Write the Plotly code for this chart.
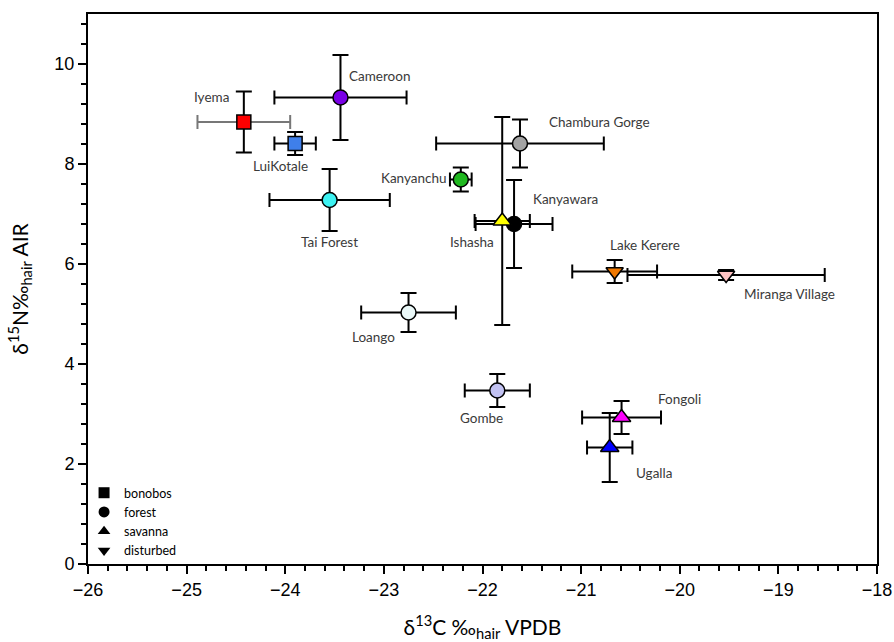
import plotly.graph_objects as go

# ---- data ----
sites = ["Iyema", "LuiKotale", "Cameroon", "Tai Forest", "Kanyanchu", "Chambura Gorge",
         "Kanyawara", "Ishasha", "Lake Kerere", "Miranga Village", "Loango", "Gombe",
         "Fongoli", "Ugalla"]
habitat = ["bonobos", "bonobos", "forest", "forest", "forest", "forest",
           "forest", "savanna", "disturbed", "disturbed", "forest", "forest",
           "savanna", "savanna"]
d13c = [-24.42, -23.90, -23.44, -23.55, -22.22, -21.62, -21.68, -21.80, -20.66, -19.53,
        -22.75, -21.85, -20.59, -20.71]
d13c_sd = [0.47, 0.21, 0.67, 0.61, 0.11, 0.85, 0.39, 0.28, 0.43, 1.00, 0.48, 0.33, 0.40, 0.23]
d15n = [8.84, 8.41, 9.33, 7.28, 7.69, 8.41, 6.80, 6.86, 5.85, 5.78, 5.03, 3.47, 2.93, 2.33]
d15n_sd = [0.61, 0.23, 0.85, 0.62, 0.24, 0.48, 0.88, 2.08, 0.23, 0.10, 0.39, 0.33, 0.33, 0.69]
legend_groups = ["bonobos", "forest", "savanna", "disturbed"]

# ---- styles ----
colors = {"Iyema": "#FF0000", "LuiKotale": "#3F7FEA", "Cameroon": "#7A00E6",
          "Tai Forest": "#3DF2F2", "Kanyanchu": "#20B820", "Chambura Gorge": "#A3A3A3",
          "Kanyawara": "#000000", "Ishasha": "#FFFF00", "Lake Kerere": "#F07800",
          "Miranga Village": "#FFC2C2", "Loango": "#EAF8F8", "Gombe": "#C2C2F2",
          "Fongoli": "#FF00FF", "Ugalla": "#0000FF"}
symbols = {"bonobos": "square", "forest": "circle", "savanna": "triangle-up",
           "disturbed": "triangle-down"}
sizes = {"bonobos": 14, "forest": 15, "savanna": 16, "disturbed": 15}
# label offsets in pixels (dx, dy) relative to point
label_off = {"Iyema": (-32, 25), "LuiKotale": (-15, -22), "Cameroon": (39, 22),
             "Tai Forest": (0, -42), "Kanyanchu": (-47, 2), "Chambura Gorge": (80, 22),
             "Kanyawara": (51, 25), "Ishasha": (-30, -21), "Lake Kerere": (30, 27),
             "Miranga Village": (63, -19), "Loango": (-35, -24), "Gombe": (-16, -27),
             "Fongoli": (58, 19), "Ugalla": (44, -25)}

fig = go.Figure()

draw_order = ["Iyema", "LuiKotale", "Cameroon", "Tai Forest", "Kanyanchu", "Chambura Gorge",
              "Kanyawara", "Ishasha", "Lake Kerere", "Miranga Village", "Loango", "Gombe",
              "Ugalla", "Fongoli"]
for name in draw_order:
    i = sites.index(name)
    h = habitat[i]
    xcol = "#777777" if name == "Iyema" else "black"
    fig.add_trace(go.Scatter(
        x=[d13c[i]], y=[d15n[i]], mode="markers", showlegend=False,
        marker=dict(symbol=symbols[h], size=sizes[h], color=colors[name],
                    line=dict(color="black", width=1.5)),
        error_x=dict(type="data", array=[d13c_sd[i]], color=xcol, thickness=2, width=7),
        error_y=dict(type="data", array=[d15n_sd[i]], color="black", thickness=2, width=8),
        hovertext=name, name=name))
    dx, dy = label_off[name]
    fig.add_annotation(x=d13c[i], y=d15n[i], text=name, showarrow=False,
                       xshift=dx, yshift=dy,
                       font=dict(family="Lato, Open Sans, sans-serif", size=13.5, color="#3a3a3a"))

for g in legend_groups:
    fig.add_trace(go.Scatter(x=[None], y=[None], mode="markers", name=g,
                             marker=dict(symbol=symbols[g], size=11, color="black")))

axis_common = dict(showline=True, linecolor="black", linewidth=2, mirror=True,
                   ticks="outside", ticklen=8, tickwidth=2, tickcolor="black",
                   showgrid=False, zeroline=False, automargin=False,
                   tickfont=dict(family="Liberation Sans, Arial, sans-serif", size=18, color="black"))

fig.update_xaxes(range=[-26, -18], dtick=1, tickformat="d",
                 minor=dict(dtick=0.2, ticks="outside", ticklen=5, tickwidth=1.5, tickcolor="black"),
                 title=dict(text="δ<sup>13</sup>C ‰<sub>hair</sub> VPDB", standoff=23,
                            font=dict(family="Lato, Open Sans, sans-serif", size=21, color="black")),
                 **axis_common)
fig.update_yaxes(range=[0, 11], tickvals=[0, 2, 4, 6, 8, 10],
                 minor=dict(dtick=0.4, ticks="outside", ticklen=5, tickwidth=1.5, tickcolor="black"),
                 title=dict(text="δ<sup>15</sup>N‰<sub>hair</sub> AIR", standoff=20,
                            font=dict(family="Lato, Open Sans, sans-serif", size=21, color="black")),
                 **axis_common)

fig.update_layout(
    width=894, height=642,
    margin=dict(l=88, r=17, t=14, b=78),
    plot_bgcolor="white", paper_bgcolor="white",
    separators=".\u2212",
    legend=dict(x=-0.005, y=-0.002, xanchor="left", yanchor="bottom",
                bgcolor="rgba(0,0,0,0)", tracegroupgap=0, itemwidth=30,
                font=dict(family="Lato, Open Sans, sans-serif", size=12.5, color="black")),
)

fig.write_html("out.html", config={"displayModeBar": False},
               post_script="document.body.style.margin='0px';")
